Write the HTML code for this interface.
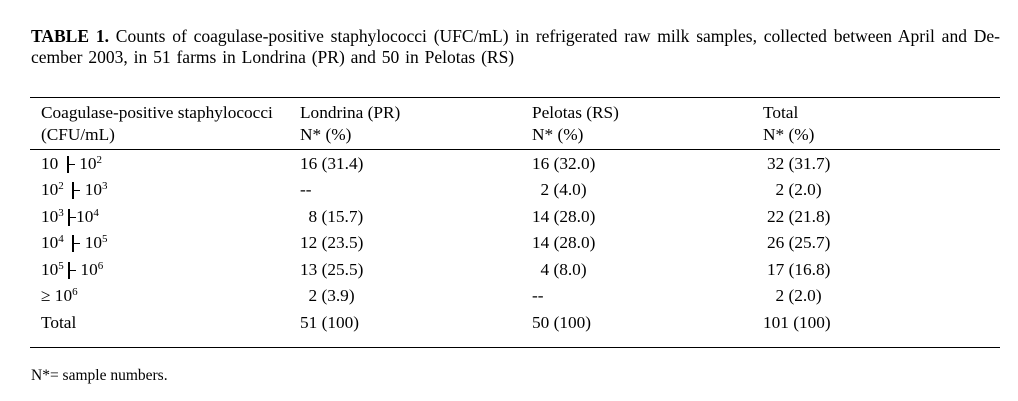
<!DOCTYPE html>
<html>
<head>
<meta charset="utf-8">
<style>
  html, body { margin:0; padding:0; background:#fff; }
  body { width:1018px; height:401px; position:relative; overflow:hidden;
         font-family:"Liberation Serif","Times New Roman",serif; color:#000; }
  .t { position:absolute; white-space:nowrap; line-height:20px; font-size:17.3px; }
  .title { position:absolute; left:31px; width:969px; font-size:17.5px; line-height:21px; white-space:nowrap; }
  .l1 { top:26px; text-align:justify; text-align-last:justify; }
  .l2 { top:47px; word-spacing:1.5px; }
  .rule { position:absolute; left:30px; width:970px; height:1px; background:#000; }
  sup { font-size:11px; vertical-align:baseline; position:relative; top:-6px; line-height:0; }
  .bar { display:inline-block; position:relative; width:8px; height:17px; vertical-align:-4px; }
  .bar::before { content:""; position:absolute; left:0; top:0; width:2px; height:17px; background:#000; }
  .bar::after { content:""; position:absolute; left:2px; top:7.5px; width:6px; height:1.5px; background:#000; }
  .note { position:absolute; left:31px; font-size:15.5px; line-height:20px; white-space:nowrap; }
</style>
</head>
<body>
  <div class="title l1"><b>TABLE 1.</b> Counts of coagulase-positive staphylococci (UFC/mL) in refrigerated raw milk samples, collected between April and De-</div>
  <div class="title l2">cember 2003, in 51 farms in Londrina (PR) and 50 in Pelotas (RS)</div>

  <div class="rule" style="top:97px"></div>

  <div class="t" style="left:41px;top:103px">Coagulase-positive staphylococci</div>
  <div class="t" style="left:41px;top:125px">(CFU/mL)</div>
  <div class="t" style="left:300px;top:103px">Londrina (PR)</div>
  <div class="t" style="left:300px;top:125px">N* (%)</div>
  <div class="t" style="left:532px;top:103px">Pelotas (RS)</div>
  <div class="t" style="left:532px;top:125px">N* (%)</div>
  <div class="t" style="left:763px;top:103px">Total</div>
  <div class="t" style="left:763px;top:125px">N* (%)</div>

  <div class="rule" style="top:149px"></div>

  <!-- row 1 -->
  <div class="t" style="left:41px;top:154px">10 &nbsp;<span class="bar"></span> 10<sup>2</sup></div>
  <div class="t" style="left:300px;top:154px">16 (31.4)</div>
  <div class="t" style="left:532px;top:154px">16 (32.0)</div>
  <div class="t" style="left:767px;top:154px">32 (31.7)</div>

  <!-- row 2 -->
  <div class="t" style="left:41px;top:180px">10<sup>2</sup>&nbsp; <span class="bar"></span> 10<sup>3</sup></div>
  <div class="t" style="left:300px;top:180px">--</div>
  <div class="t" style="left:540.5px;top:180px">2 (4.0)</div>
  <div class="t" style="left:775.5px;top:180px">2 (2.0)</div>

  <!-- row 3 -->
  <div class="t" style="left:41px;top:207px">10<sup>3</sup>&nbsp;<span class="bar"></span>10<sup>4</sup></div>
  <div class="t" style="left:308.5px;top:207px">8 (15.7)</div>
  <div class="t" style="left:532px;top:207px">14 (28.0)</div>
  <div class="t" style="left:767px;top:207px">22 (21.8)</div>

  <!-- row 4 -->
  <div class="t" style="left:41px;top:233px">10<sup>4</sup>&nbsp; <span class="bar"></span> 10<sup>5</sup></div>
  <div class="t" style="left:300px;top:233px">12 (23.5)</div>
  <div class="t" style="left:532px;top:233px">14 (28.0)</div>
  <div class="t" style="left:767px;top:233px">26 (25.7)</div>

  <!-- row 5 -->
  <div class="t" style="left:41px;top:260px">10<sup>5</sup>&nbsp;<span class="bar"></span> 10<sup>6</sup></div>
  <div class="t" style="left:300px;top:260px">13 (25.5)</div>
  <div class="t" style="left:540.5px;top:260px">4 (8.0)</div>
  <div class="t" style="left:767px;top:260px">17 (16.8)</div>

  <!-- row 6 -->
  <div class="t" style="left:41px;top:286px">&ge; 10<sup>6</sup></div>
  <div class="t" style="left:308.5px;top:286px">2 (3.9)</div>
  <div class="t" style="left:532px;top:286px">--</div>
  <div class="t" style="left:775.5px;top:286px">2 (2.0)</div>

  <!-- total -->
  <div class="t" style="left:41px;top:313px">Total</div>
  <div class="t" style="left:300px;top:313px">51 (100)</div>
  <div class="t" style="left:532px;top:313px">50 (100)</div>
  <div class="t" style="left:763px;top:313px">101 (100)</div>

  <div class="rule" style="top:347px"></div>

  <div class="note" style="top:366px">N*= sample numbers.</div>
</body>
</html>
